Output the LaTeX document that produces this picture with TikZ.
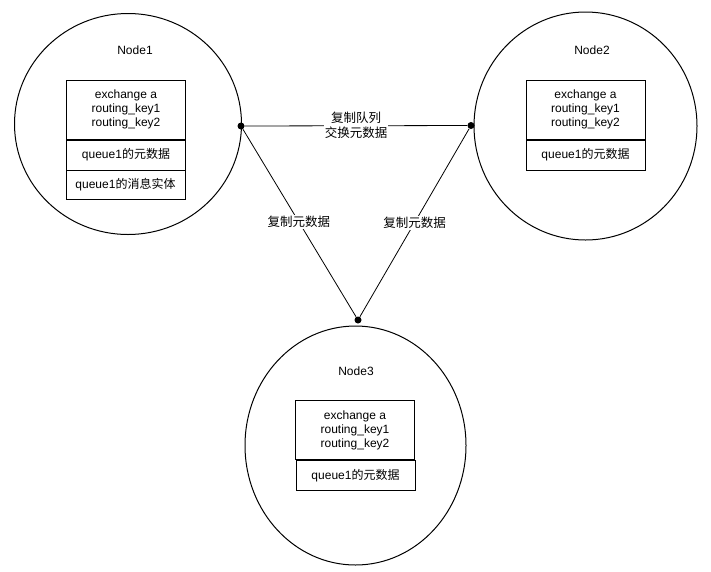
\documentclass[tikz,border=0pt]{standalone}
\usepackage{fontspec}
\setmainfont{Liberation Sans}
\newfontfamily\cjk{Noto Sans CJK SC}
\begin{document}
\begin{tikzpicture}[x=1pt,y=-1pt,
  font=\fontsize{12}{14}\selectfont,
  ring/.style={draw,line width=1pt},
  keybox/.style={draw,line width=0.9pt,fill=white,minimum width=119pt,minimum height=59pt,align=center,inner sep=0pt},
  metabox/.style={draw,line width=0.9pt,fill=white,minimum width=119pt,minimum height=30pt,inner sep=0pt},
  lbl/.style={fill=white,inner sep=1pt,align=center,font=\fontsize{12.5}{15}\cjk},
  dot/.style={circle,fill=black,inner sep=0pt,minimum size=7pt},
  link/.style={draw,line width=0.8pt}]
\useasboundingbox (0,0) rectangle (711,571);
% circles
\draw[ring] (128,124) ellipse [x radius=113.5, y radius=110.5];
\draw[ring] (585.5,126) ellipse [x radius=111.5, y radius=114];
\draw[ring] (355.5,445.5) ellipse [x radius=110.5, y radius=119.5];
% titles
\node (t1) at (135,50) {Node1};
\node (t2) at (592,50) {Node2};
\node (t3) at (356,371) {Node3};
% node1 boxes
\node[keybox] (k1) at (126,109.5) {exchange a\\routing\_key1\\routing\_key2};
\node[metabox] (m1) at (126,155) {queue1{\cjk 的元数据}};
\node[metabox,minimum height=29pt] (e1) at (125.5,185) {queue1{\cjk 的消息实体}};
% node2 boxes
\node[keybox] (k2) at (585.5,109.5) {exchange a\\routing\_key1\\routing\_key2};
\node[metabox] (m2) at (585.5,155) {queue1{\cjk 的元数据}};
% node3 boxes
\node[keybox] (k3) at (355,430) {exchange a\\routing\_key1\\routing\_key2};
\node[metabox] (m3) at (355.5,475.5) {queue1{\cjk 的元数据}};
% connection points
\node[dot] (p1) at (241,126) {};
\node[dot] (p2) at (471,125.5) {};
\node[dot] (p3) at (358,320) {};
\draw[link] (p1) -- node[lbl] (l12) {复制队列\\交换元数据} (p2);
\draw[link] (p1) -- node[lbl,pos=0.495] (l13) {复制元数据} (p3);
\draw[link] (p2) -- node[lbl,pos=0.5] (l23) {复制元数据} (p3);
\end{tikzpicture}
\end{document}
